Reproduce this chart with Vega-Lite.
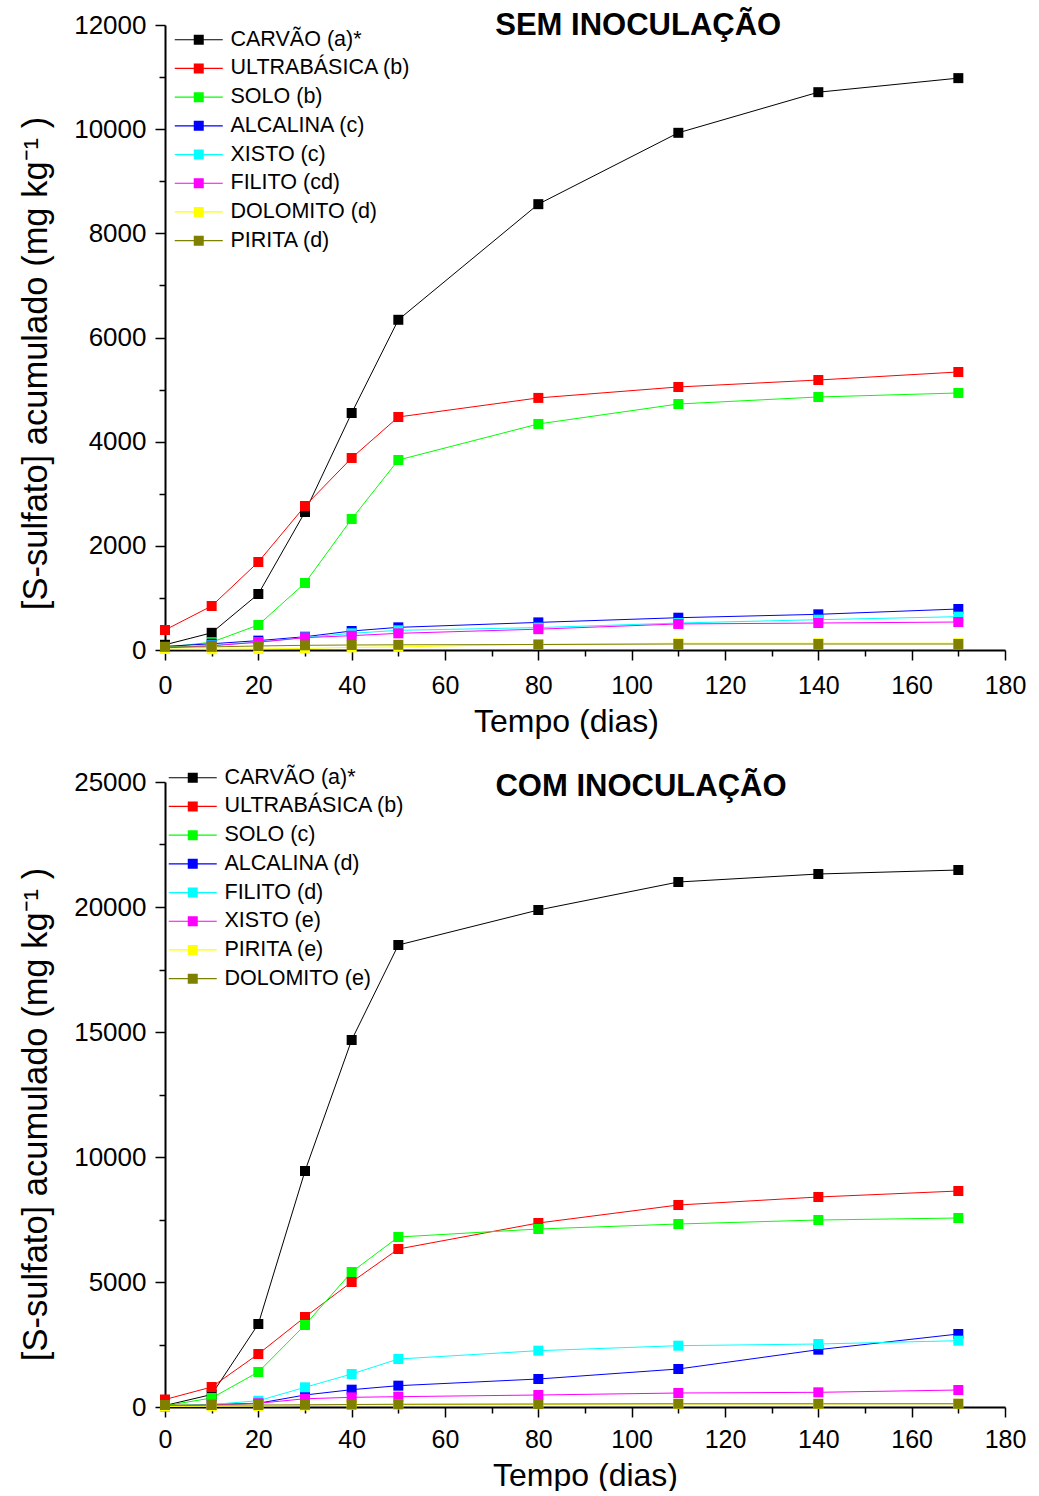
{
"$schema": "https://vega.github.io/schema/vega-lite/v6.json",
"padding": {"left": 18, "top": 10, "right": 5, "bottom": 0},
"background": "white",
"config": {"view": {"stroke": null}, "font": "Liberation Sans",
 "axis": {"grid": false, "domainColor": "black", "domainWidth": 2, "tickColor": "black", "tickWidth": 1.5, "labelColor": "black", "titleColor": "black", "labelFont": "Liberation Sans", "titleFont": "Liberation Sans", "titleFontWeight": "normal", "labelOverlap": false, "labelFlush": false}
},
"datasets": {
"sem": [
{"serie":"CARVÃO (a)*","dia":0,"valor":100},{"serie":"CARVÃO (a)*","dia":10,"valor":330},{"serie":"CARVÃO (a)*","dia":20,"valor":1075},{"serie":"CARVÃO (a)*","dia":30,"valor":2650},{"serie":"CARVÃO (a)*","dia":40,"valor":4550},{"serie":"CARVÃO (a)*","dia":50,"valor":6340},{"serie":"CARVÃO (a)*","dia":80,"valor":8560},{"serie":"CARVÃO (a)*","dia":110,"valor":9930},{"serie":"CARVÃO (a)*","dia":140,"valor":10710},{"serie":"CARVÃO (a)*","dia":170,"valor":10980},
{"serie":"ULTRABÁSICA (b)","dia":0,"valor":384},{"serie":"ULTRABÁSICA (b)","dia":10,"valor":845},{"serie":"ULTRABÁSICA (b)","dia":20,"valor":1690},{"serie":"ULTRABÁSICA (b)","dia":30,"valor":2765},{"serie":"ULTRABÁSICA (b)","dia":40,"valor":3687},{"serie":"ULTRABÁSICA (b)","dia":50,"valor":4474},{"serie":"ULTRABÁSICA (b)","dia":80,"valor":4840},{"serie":"ULTRABÁSICA (b)","dia":110,"valor":5050},{"serie":"ULTRABÁSICA (b)","dia":140,"valor":5184},{"serie":"ULTRABÁSICA (b)","dia":170,"valor":5338},
{"serie":"SOLO (b)","dia":0,"valor":50},{"serie":"SOLO (b)","dia":10,"valor":150},{"serie":"SOLO (b)","dia":20,"valor":480},{"serie":"SOLO (b)","dia":30,"valor":1286},{"serie":"SOLO (b)","dia":40,"valor":2515},{"serie":"SOLO (b)","dia":50,"valor":3648},{"serie":"SOLO (b)","dia":80,"valor":4340},{"serie":"SOLO (b)","dia":110,"valor":4723},{"serie":"SOLO (b)","dia":140,"valor":4858},{"serie":"SOLO (b)","dia":170,"valor":4935},
{"serie":"ALCALINA (c)","dia":0,"valor":70},{"serie":"ALCALINA (c)","dia":10,"valor":120},{"serie":"ALCALINA (c)","dia":20,"valor":180},{"serie":"ALCALINA (c)","dia":30,"valor":255},{"serie":"ALCALINA (c)","dia":40,"valor":365},{"serie":"ALCALINA (c)","dia":50,"valor":435},{"serie":"ALCALINA (c)","dia":80,"valor":530},{"serie":"ALCALINA (c)","dia":110,"valor":620},{"serie":"ALCALINA (c)","dia":140,"valor":685},{"serie":"ALCALINA (c)","dia":170,"valor":787},
{"serie":"XISTO (c)","dia":0,"valor":50},{"serie":"XISTO (c)","dia":10,"valor":90},{"serie":"XISTO (c)","dia":20,"valor":150},{"serie":"XISTO (c)","dia":30,"valor":240},{"serie":"XISTO (c)","dia":40,"valor":320},{"serie":"XISTO (c)","dia":50,"valor":378},{"serie":"XISTO (c)","dia":80,"valor":430},{"serie":"XISTO (c)","dia":110,"valor":518},{"serie":"XISTO (c)","dia":140,"valor":582},{"serie":"XISTO (c)","dia":170,"valor":640},
{"serie":"FILITO (cd)","dia":0,"valor":40},{"serie":"FILITO (cd)","dia":10,"valor":80},{"serie":"FILITO (cd)","dia":20,"valor":150},{"serie":"FILITO (cd)","dia":30,"valor":237},{"serie":"FILITO (cd)","dia":40,"valor":275},{"serie":"FILITO (cd)","dia":50,"valor":320},{"serie":"FILITO (cd)","dia":80,"valor":400},{"serie":"FILITO (cd)","dia":110,"valor":500},{"serie":"FILITO (cd)","dia":140,"valor":518},{"serie":"FILITO (cd)","dia":170,"valor":537},
{"serie":"DOLOMITO (d)","dia":0,"valor":20},{"serie":"DOLOMITO (d)","dia":10,"valor":15},{"serie":"DOLOMITO (d)","dia":20,"valor":20},{"serie":"DOLOMITO (d)","dia":30,"valor":30},{"serie":"DOLOMITO (d)","dia":40,"valor":50},{"serie":"DOLOMITO (d)","dia":50,"valor":60},{"serie":"DOLOMITO (d)","dia":80,"valor":110},{"serie":"DOLOMITO (d)","dia":110,"valor":130},{"serie":"DOLOMITO (d)","dia":140,"valor":130},{"serie":"DOLOMITO (d)","dia":170,"valor":130},
{"serie":"PIRITA (d)","dia":0,"valor":60},{"serie":"PIRITA (d)","dia":10,"valor":60},{"serie":"PIRITA (d)","dia":20,"valor":77},{"serie":"PIRITA (d)","dia":30,"valor":90},{"serie":"PIRITA (d)","dia":40,"valor":96},{"serie":"PIRITA (d)","dia":50,"valor":100},{"serie":"PIRITA (d)","dia":80,"valor":105},{"serie":"PIRITA (d)","dia":110,"valor":115},{"serie":"PIRITA (d)","dia":140,"valor":115},{"serie":"PIRITA (d)","dia":170,"valor":115}
],
"com": [
{"serie":"CARVÃO (a)*","dia":0,"valor":60},{"serie":"CARVÃO (a)*","dia":10,"valor":500},{"serie":"CARVÃO (a)*","dia":20,"valor":3320},{"serie":"CARVÃO (a)*","dia":30,"valor":9440},{"serie":"CARVÃO (a)*","dia":40,"valor":14680},{"serie":"CARVÃO (a)*","dia":50,"valor":18480},{"serie":"CARVÃO (a)*","dia":80,"valor":19880},{"serie":"CARVÃO (a)*","dia":110,"valor":21000},{"serie":"CARVÃO (a)*","dia":140,"valor":21320},{"serie":"CARVÃO (a)*","dia":170,"valor":21480},
{"serie":"ULTRABÁSICA (b)","dia":0,"valor":300},{"serie":"ULTRABÁSICA (b)","dia":10,"valor":800},{"serie":"ULTRABÁSICA (b)","dia":20,"valor":2120},{"serie":"ULTRABÁSICA (b)","dia":30,"valor":3600},{"serie":"ULTRABÁSICA (b)","dia":40,"valor":5000},{"serie":"ULTRABÁSICA (b)","dia":50,"valor":6320},{"serie":"ULTRABÁSICA (b)","dia":80,"valor":7360},{"serie":"ULTRABÁSICA (b)","dia":110,"valor":8080},{"serie":"ULTRABÁSICA (b)","dia":140,"valor":8400},{"serie":"ULTRABÁSICA (b)","dia":170,"valor":8640},
{"serie":"SOLO (c)","dia":0,"valor":50},{"serie":"SOLO (c)","dia":10,"valor":360},{"serie":"SOLO (c)","dia":20,"valor":1400},{"serie":"SOLO (c)","dia":30,"valor":3280},{"serie":"SOLO (c)","dia":40,"valor":5400},{"serie":"SOLO (c)","dia":50,"valor":6800},{"serie":"SOLO (c)","dia":80,"valor":7120},{"serie":"SOLO (c)","dia":110,"valor":7320},{"serie":"SOLO (c)","dia":140,"valor":7480},{"serie":"SOLO (c)","dia":170,"valor":7560},
{"serie":"ALCALINA (d)","dia":0,"valor":30},{"serie":"ALCALINA (d)","dia":10,"valor":100},{"serie":"ALCALINA (d)","dia":20,"valor":150},{"serie":"ALCALINA (d)","dia":30,"valor":480},{"serie":"ALCALINA (d)","dia":40,"valor":693},{"serie":"ALCALINA (d)","dia":50,"valor":853},{"serie":"ALCALINA (d)","dia":80,"valor":1120},{"serie":"ALCALINA (d)","dia":110,"valor":1520},{"serie":"ALCALINA (d)","dia":140,"valor":2293},{"serie":"ALCALINA (d)","dia":170,"valor":2920},
{"serie":"FILITO (d)","dia":0,"valor":50},{"serie":"FILITO (d)","dia":10,"valor":100},{"serie":"FILITO (d)","dia":20,"valor":250},{"serie":"FILITO (d)","dia":30,"valor":787},{"serie":"FILITO (d)","dia":40,"valor":1320},{"serie":"FILITO (d)","dia":50,"valor":1920},{"serie":"FILITO (d)","dia":80,"valor":2253},{"serie":"FILITO (d)","dia":110,"valor":2453},{"serie":"FILITO (d)","dia":140,"valor":2520},{"serie":"FILITO (d)","dia":170,"valor":2653},
{"serie":"XISTO (e)","dia":0,"valor":30},{"serie":"XISTO (e)","dia":10,"valor":80},{"serie":"XISTO (e)","dia":20,"valor":150},{"serie":"XISTO (e)","dia":30,"valor":330},{"serie":"XISTO (e)","dia":40,"valor":387},{"serie":"XISTO (e)","dia":50,"valor":413},{"serie":"XISTO (e)","dia":80,"valor":480},{"serie":"XISTO (e)","dia":110,"valor":560},{"serie":"XISTO (e)","dia":140,"valor":587},{"serie":"XISTO (e)","dia":170,"valor":680},
{"serie":"PIRITA (e)","dia":0,"valor":20},{"serie":"PIRITA (e)","dia":10,"valor":30},{"serie":"PIRITA (e)","dia":20,"valor":40},{"serie":"PIRITA (e)","dia":30,"valor":60},{"serie":"PIRITA (e)","dia":40,"valor":80},{"serie":"PIRITA (e)","dia":50,"valor":100},{"serie":"PIRITA (e)","dia":80,"valor":110},{"serie":"PIRITA (e)","dia":110,"valor":120},{"serie":"PIRITA (e)","dia":140,"valor":120},{"serie":"PIRITA (e)","dia":170,"valor":130},
{"serie":"DOLOMITO (e)","dia":0,"valor":80},{"serie":"DOLOMITO (e)","dia":10,"valor":80},{"serie":"DOLOMITO (e)","dia":20,"valor":80},{"serie":"DOLOMITO (e)","dia":30,"valor":90},{"serie":"DOLOMITO (e)","dia":40,"valor":100},{"serie":"DOLOMITO (e)","dia":50,"valor":110},{"serie":"DOLOMITO (e)","dia":80,"valor":120},{"serie":"DOLOMITO (e)","dia":110,"valor":130},{"serie":"DOLOMITO (e)","dia":140,"valor":130},{"serie":"DOLOMITO (e)","dia":170,"valor":130}
]
},
"spacing": 30,
"resolve": {"scale": {"color": "independent", "stroke": "independent", "x": "independent", "y": "independent"}, "legend": {"color": "independent", "stroke": "independent"}, "axis": {"x": "independent", "y": "independent"}},
"vconcat": [
{
 "width": 840, "height": 625,
 "resolve": {"axis": {"x": "independent", "y": "independent"}},
 "layer": [
  {"data": {"name": "sem"}, "mark": {"type": "line", "strokeWidth": 1},
   "encoding": {
    "x": {"field": "dia", "type": "quantitative", "scale": {"domain": [0, 180], "nice": false, "zero": false},
     "axis": {"orient": "bottom", "title": "Tempo (dias)", "values": [0,20,40,60,80,100,120,140,160,180], "tickSize": 10, "labelPadding": 13, "labelFontSize": 25, "titleFontSize": 32, "titleX": 401, "titleY": 81, "titleBaseline": "alphabetic", "titleAlign": "center"}},
    "y": {"field": "valor", "type": "quantitative", "scale": {"domain": [0, 12000], "nice": false},
     "axis": {"orient": "left", "title": "[S-sulfato] acumulado (mg kg⁻¹ )", "values": [0,2000,4000,6000,8000,10000,12000], "format": "d", "tickSize": 10, "labelPadding": 9, "labelFontSize": 26, "titleFontSize": 34.5, "titleX": -119, "titleY": 338, "titleBaseline": "alphabetic", "titleAlign": "center", "titleAngle": 270}},
    "stroke": {"field": "serie", "type": "nominal", "legend": null,
    "scale": {"domain": ["PIRITA (d)", "DOLOMITO (d)", "FILITO (cd)", "XISTO (c)", "ALCALINA (c)", "SOLO (b)", "ULTRABÁSICA (b)", "CARVÃO (a)*"], "range": ["#808000", "#FFFF00", "#FF00FF", "#00FFFF", "#0000FF", "#00FF00", "#FF0000", "#000000"]}}}},
  {"data": {"name": "sem"}, "mark": {"type": "point", "shape": "square", "filled": true, "size": 100, "opacity": 1},
   "encoding": {
    "x": {"field": "dia", "type": "quantitative", "axis": null},
    "y": {"field": "valor", "type": "quantitative", "axis": null},
    "color": {"field": "serie", "type": "nominal",
    "scale": {"domain": ["CARVÃO (a)*", "ULTRABÁSICA (b)", "SOLO (b)", "ALCALINA (c)", "XISTO (c)", "FILITO (cd)", "DOLOMITO (d)", "PIRITA (d)"], "range": ["#000000", "#FF0000", "#00FF00", "#0000FF", "#00FFFF", "#FF00FF", "#FFFF00", "#808000"]},
    "legend": {"orient": "none", "legendX": 23, "legendY": 4, "title": null, "symbolType": "M-2.4,-0.06L2.4,-0.06L2.4,0.06L-2.4,0.06Z M-0.5,-0.5L0.5,-0.5L0.5,0.5L-0.5,0.5Z", "symbolSize": 400, "symbolStrokeWidth": 0, "labelFontSize": 21.5, "labelOffset": 21, "rowPadding": 5.7, "labelColor": "black", "labelLimit": 0}}}},
  {"data": {"values": [{"titulo": "SEM INOCULAÇÃO"}]},
   "mark": {"type": "text", "fontSize": 31, "fontWeight": "bold", "align": "center", "baseline": "alphabetic", "color": "black"},
   "encoding": {"text": {"field": "titulo", "type": "nominal"},
    "x": {"datum": 101.4, "type": "quantitative", "axis": {"orient": "bottom", "values": [10,30,50,70,90,110,130,150,170], "labels": false, "domain": false, "tickSize": 6, "title": null}},
    "y": {"datum": 11800, "type": "quantitative", "axis": {"orient": "left", "values": [1000,3000,5000,7000,9000,11000], "labels": false, "domain": false, "tickSize": 6, "title": null}}}}
 ]
},
{
 "width": 840, "height": 625,
 "resolve": {"axis": {"x": "independent", "y": "independent"}},
 "layer": [
  {"data": {"name": "com"}, "mark": {"type": "line", "strokeWidth": 1},
   "encoding": {
    "x": {"field": "dia", "type": "quantitative", "scale": {"domain": [0, 180], "nice": false, "zero": false},
     "axis": {"orient": "bottom", "title": "Tempo (dias)", "values": [0,20,40,60,80,100,120,140,160,180], "tickSize": 10, "labelPadding": 10, "labelFontSize": 25, "titleFontSize": 32, "titleX": 420, "titleY": 78, "titleBaseline": "alphabetic", "titleAlign": "center"}},
    "y": {"field": "valor", "type": "quantitative", "scale": {"domain": [0, 25000], "nice": false},
     "axis": {"orient": "left", "title": "[S-sulfato] acumulado (mg kg⁻¹ )", "values": [0,5000,10000,15000,20000,25000], "format": "d", "tickSize": 10, "labelPadding": 9, "labelFontSize": 26, "titleFontSize": 34.5, "titleX": -119, "titleY": 332, "titleBaseline": "alphabetic", "titleAlign": "center", "titleAngle": 270}},
    "stroke": {"field": "serie", "type": "nominal", "legend": null,
    "scale": {"domain": ["DOLOMITO (e)", "PIRITA (e)", "XISTO (e)", "FILITO (d)", "ALCALINA (d)", "SOLO (c)", "ULTRABÁSICA (b)", "CARVÃO (a)*"], "range": ["#808000", "#FFFF00", "#FF00FF", "#00FFFF", "#0000FF", "#00FF00", "#FF0000", "#000000"]}}}},
  {"data": {"name": "com"}, "mark": {"type": "point", "shape": "square", "filled": true, "size": 100, "opacity": 1},
   "encoding": {
    "x": {"field": "dia", "type": "quantitative", "axis": null},
    "y": {"field": "valor", "type": "quantitative", "axis": null},
    "color": {"field": "serie", "type": "nominal",
    "scale": {"domain": ["CARVÃO (a)*", "ULTRABÁSICA (b)", "SOLO (c)", "ALCALINA (d)", "FILITO (d)", "XISTO (e)", "PIRITA (e)", "DOLOMITO (e)"], "range": ["#000000", "#FF0000", "#00FF00", "#0000FF", "#00FFFF", "#FF00FF", "#FFFF00", "#808000"]},
    "legend": {"orient": "none", "legendX": 17, "legendY": -15, "title": null, "symbolType": "M-2.4,-0.06L2.4,-0.06L2.4,0.06L-2.4,0.06Z M-0.5,-0.5L0.5,-0.5L0.5,0.5L-0.5,0.5Z", "symbolSize": 400, "symbolStrokeWidth": 0, "labelFontSize": 21.5, "labelOffset": 21, "rowPadding": 5.7, "labelColor": "black", "labelLimit": 0}}}},
  {"data": {"values": [{"titulo": "COM INOCULAÇÃO"}]},
   "mark": {"type": "text", "fontSize": 31, "fontWeight": "bold", "align": "center", "baseline": "alphabetic", "color": "black"},
   "encoding": {"text": {"field": "titulo", "type": "nominal"},
    "x": {"datum": 102, "type": "quantitative", "axis": {"orient": "bottom", "values": [10,30,50,70,90,110,130,150,170], "labels": false, "domain": false, "tickSize": 6, "title": null}},
    "y": {"datum": 24450, "type": "quantitative", "axis": {"orient": "left", "values": [2500,7500,12500,17500,22500], "labels": false, "domain": false, "tickSize": 6, "title": null}}}}
 ]
}
]
}
